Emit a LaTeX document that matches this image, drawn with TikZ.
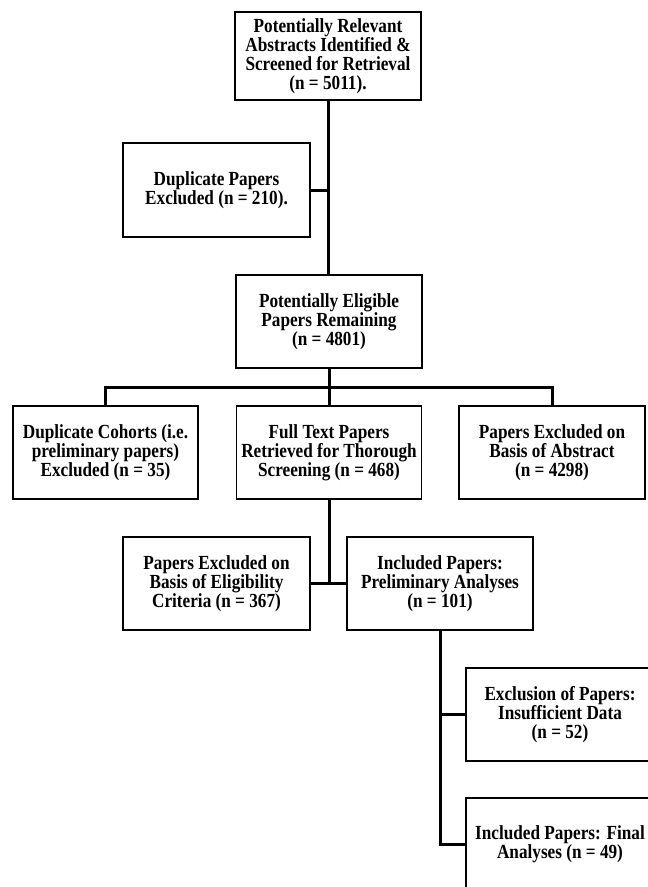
\documentclass[tikz,border=0pt]{standalone}
\usepackage{fontspec}
\setmainfont[FakeStretch=0.86]{Liberation Serif}
\usetikzlibrary{positioning}

\begin{document}
\begin{tikzpicture}[x=1pt, y=-1pt,
  flowbox/.style={draw=black, line width=1.3pt, fill=white, align=center, inner sep=2pt,
    minimum height=93pt, font=\fontsize{20}{18.8}\selectfont\bfseries},
  link/.style={line width=3pt}]
  \clip (0,0) rectangle (648,887);
  \fill[white] (0,0) rectangle (648,887);

  % boxes
  \node[flowbox, minimum width=186pt, minimum height=88pt] (rel) at (328,56)
    {Potentially Relevant\\Abstracts Identified \&\\Screened for Retrieval\\(n = 5011).};
  \node[flowbox, minimum width=187pt, minimum height=94pt] (dup) at (216.5,190)
    {Duplicate Papers\\Excluded (n = 210).};
  \node[flowbox, minimum width=186pt] (elig) at (329,321.5)
    {Potentially Eligible\\Papers Remaining\\(n = 4801)};
  \node[flowbox, minimum width=185pt] (cohort) at (105.5,452.5)
    {Duplicate Cohorts (i.e.\\preliminary papers)\\Excluded (n = 35)};
  \node[flowbox, minimum width=185pt] (full) at (329,452.5)
    {Full Text Papers\\Retrieved for Thorough\\Screening (n = 468)};
  \node[flowbox, minimum width=186pt] (abstr) at (552,452.5)
    {Papers Excluded on\\Basis of Abstract\\(n = 4298)};
  \node[flowbox, minimum width=187pt] (crit) at (216.5,583.5)
    {Papers Excluded on\\Basis of Eligibility\\Criteria (n = 367)};
  \node[flowbox, minimum width=186pt] (prelim) at (440,583.5)
    {Included Papers:\\Preliminary Analyses\\(n = 101)};
  \node[flowbox, minimum width=188pt] (insuf) at (560,714.5)
    {Exclusion of Papers:\\Insufficient Data\\(n = 52)};
  \node[flowbox, minimum width=188pt] (final) at (560,844.5)
    {Included Papers: Final\\Analyses (n = 49)};

  % connectors
  \coordinate (split) at (329,387);
  \draw[link] (rel.south) -- (rel.south |- elig.north);
  \draw[link] (dup.east) -- (dup.east -| rel.south);
  \draw[link] (elig.south) -- (split) -- (full.north);
  \draw[link] (cohort.north) |- (split) -| (abstr.north);
  \draw[link] (full.south) -- (full.south |- crit.east);
  \draw[link] (crit.east) -- (prelim.west);
  \draw[link] (prelim.south) |- (final.west);
  \draw[link] (insuf.west) -- (insuf.west -| prelim.south);
\end{tikzpicture}
\end{document}
